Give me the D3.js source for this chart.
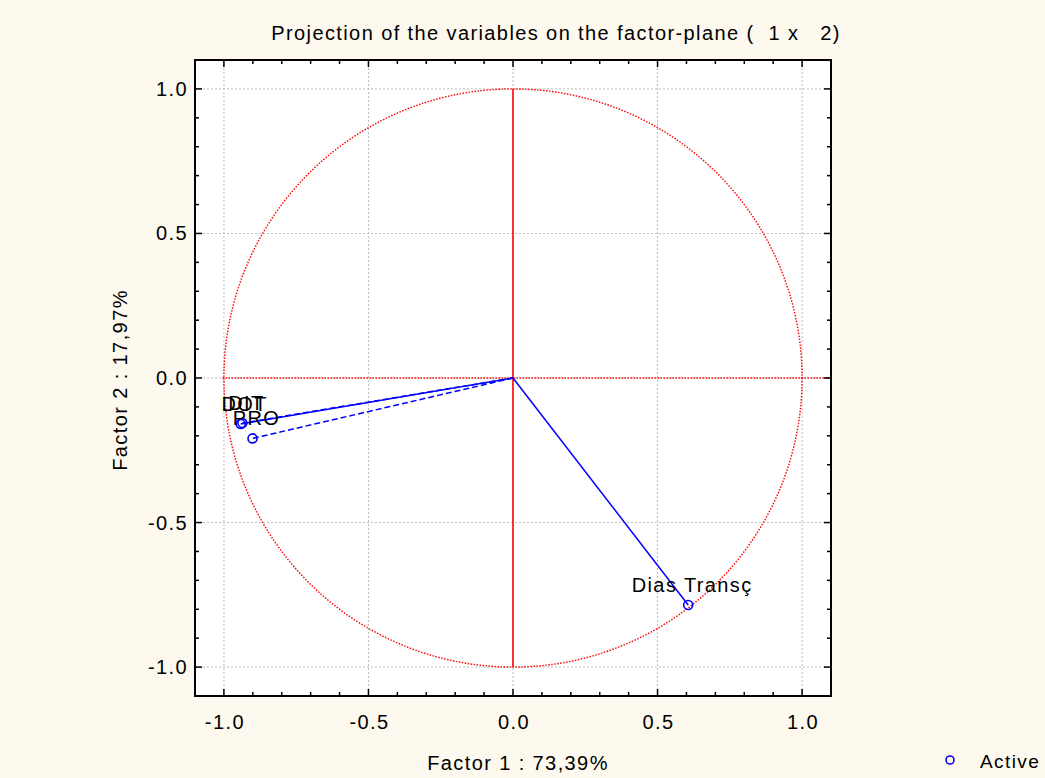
<!DOCTYPE html>
<html>
<head>
<meta charset="utf-8">
<script src="https://cdn.jsdelivr.net/npm/d3@7"></script>
<style>
  body{margin:0;background:#fdf9ee;}
  text{font-family:"Liberation Sans",Arial,sans-serif;fill:#000;font-size:19px;letter-spacing:1.4px;}
</style>
</head>
<body>
<div id="graph"></div>
<script>
// variables projected on factor plane
var var_names = ['DOT', 'DIT', 'PRO', 'Dias Transç'];
var factor1   = [-0.942, -0.936, -0.901, 0.606];
var factor2   = [-0.159, -0.156, -0.209, -0.785];
var line_type = ['solid', 'dashed', 'dashed', 'solid'];
var ticks = [-1.0, -0.5, 0.0, 0.5, 1.0];

var width = 1045, height = 778;
var x0 = 195, x1 = 831, y0 = 60, y1 = 696;

var xscale = d3.scaleLinear().domain([-1.1, 1.1]).range([x0, x1]);
var yscale = d3.scaleLinear().domain([-1.1, 1.1]).range([y1, y0]);

var svg = d3.select("#graph").append("svg")
  .attr("width", width)
  .attr("height", height);

svg.append("rect")
  .attr("x", x0).attr("y", y0)
  .attr("width", x1 - x0).attr("height", y1 - y0)
  .attr("fill", "#fff");

// grid
svg.selectAll(".gx").data(ticks).enter().append("line")
  .attr("x1", function(d){ return xscale(d); }).attr("x2", function(d){ return xscale(d); })
  .attr("y1", y0).attr("y2", y1)
  .attr("stroke", "#bbb").attr("stroke-dasharray", "2,2").attr("stroke-width", 1);
svg.selectAll(".gy").data(ticks).enter().append("line")
  .attr("y1", function(d){ return yscale(d); }).attr("y2", function(d){ return yscale(d); })
  .attr("x1", x0).attr("x2", x1)
  .attr("stroke", "#bbb").attr("stroke-dasharray", "2,2").attr("stroke-width", 1);

// unit circle + axes through origin
svg.append("circle")
  .attr("cx", xscale(0)).attr("cy", yscale(0))
  .attr("r", xscale(1) - xscale(0))
  .attr("fill", "none").attr("stroke", "#f00")
  .attr("stroke-width", 1.4).attr("stroke-dasharray", "1.5,1.5");
svg.append("line")
  .attr("x1", xscale(-1.005)).attr("x2", x1)
  .attr("y1", yscale(0)).attr("y2", yscale(0))
  .attr("stroke", "#f00").attr("stroke-width", 1.4).attr("stroke-dasharray", "1.5,1.5");
svg.append("line")
  .attr("x1", xscale(0)).attr("x2", xscale(0))
  .attr("y1", yscale(1)).attr("y2", yscale(-1))
  .attr("stroke", "#f00").attr("stroke-width", 1.6);

// vectors
var gdata = [];
for (var i = 0; i < var_names.length; i++) {
  gdata.push({name: var_names[i], f1: factor1[i], f2: factor2[i], lt: line_type[i]});
}
svg.selectAll(".vec").data(gdata).enter().append("line")
  .attr("x1", xscale(0)).attr("y1", yscale(0))
  .attr("x2", function(d){ return xscale(d.f1); })
  .attr("y2", function(d){ return yscale(d.f2); })
  .attr("stroke", "#00f").attr("stroke-width", 1.5)
  .attr("stroke-dasharray", function(d){ return d.lt == 'dashed' ? "6,3" : null; });
svg.selectAll(".pt").data(gdata).enter().append("circle")
  .attr("cx", function(d){ return xscale(d.f1); })
  .attr("cy", function(d){ return yscale(d.f2); })
  .attr("r", 4.5)
  .attr("fill", "none").attr("stroke", "#00f").attr("stroke-width", 1.6);
svg.selectAll(".lbl").data(gdata).enter().append("text")
  .attr("x", function(d){ return xscale(d.f1) + 4; })
  .attr("y", function(d){ return yscale(d.f2) - 13; })
  .attr("text-anchor", "middle")
  .style("font-size", "20px")
  .text(function(d){ return d.name; });

// frame
svg.append("rect")
  .attr("x", x0).attr("y", y0)
  .attr("width", x1 - x0).attr("height", y1 - y0)
  .attr("fill", "none").attr("stroke", "#000").attr("stroke-width", 2);

// ticks (inward, on all sides)
var minor = d3.range(-10, 11).map(function(k){ return k / 10; });
function is_major(d){ return Math.abs(d * 2 - Math.round(d * 2)) < 1e-6; }
minor.forEach(function(d){
  var len = is_major(d) ? 7 : 4;
  var xx = xscale(d), yy = yscale(d);
  svg.append("line").attr("x1", xx).attr("x2", xx).attr("y1", y1).attr("y2", y1 - len)
    .attr("stroke", "#000").attr("stroke-width", 1.5);
  svg.append("line").attr("x1", xx).attr("x2", xx).attr("y1", y0).attr("y2", y0 + len)
    .attr("stroke", "#000").attr("stroke-width", 1.5);
  svg.append("line").attr("y1", yy).attr("y2", yy).attr("x1", x0).attr("x2", x0 + len)
    .attr("stroke", "#000").attr("stroke-width", 1.5);
  svg.append("line").attr("y1", yy).attr("y2", yy).attr("x1", x1).attr("x2", x1 - len)
    .attr("stroke", "#000").attr("stroke-width", 1.5);
});

// tick labels
svg.selectAll(".xl").data(ticks).enter().append("text")
  .attr("x", function(d){ return xscale(d) + 1; })
  .attr("y", 729)
  .attr("text-anchor", "middle")
  .style("font-size", "20px")
  .text(function(d){ return d3.format(".1f")(d).replace("−", "-"); });
svg.selectAll(".yl").data(ticks).enter().append("text")
  .attr("x", 188)
  .attr("y", function(d){ return yscale(d) + 7; })
  .attr("text-anchor", "end")
  .style("font-size", "20px")
  .text(function(d){ return d3.format(".1f")(d).replace("−", "-"); });

// titles
svg.append("text")
  .attr("x", 556).attr("y", 40)
  .attr("text-anchor", "middle")
  .style("font-size", "20px")
  .attr("xml:space", "preserve")
  .text("Projection of the variables on the factor-plane (  1 x   2)");
svg.append("text")
  .attr("x", 518).attr("y", 770)
  .attr("text-anchor", "middle")
  .style("font-size", "20px")
  .text("Factor 1 : 73,39%");
svg.append("text")
  .attr("transform", "translate(127,380) rotate(-90)")
  .attr("text-anchor", "middle")
  .style("font-size", "20px")
  .text("Factor 2 : 17,97%");

// legend
svg.append("circle")
  .attr("cx", 950).attr("cy", 760).attr("r", 4)
  .attr("fill", "none").attr("stroke", "#00f").attr("stroke-width", 1.6);
svg.append("text")
  .attr("x", 980).attr("y", 768)
  .style("font-size", "19px")
  .text("Active");
</script>
</body>
</html>
